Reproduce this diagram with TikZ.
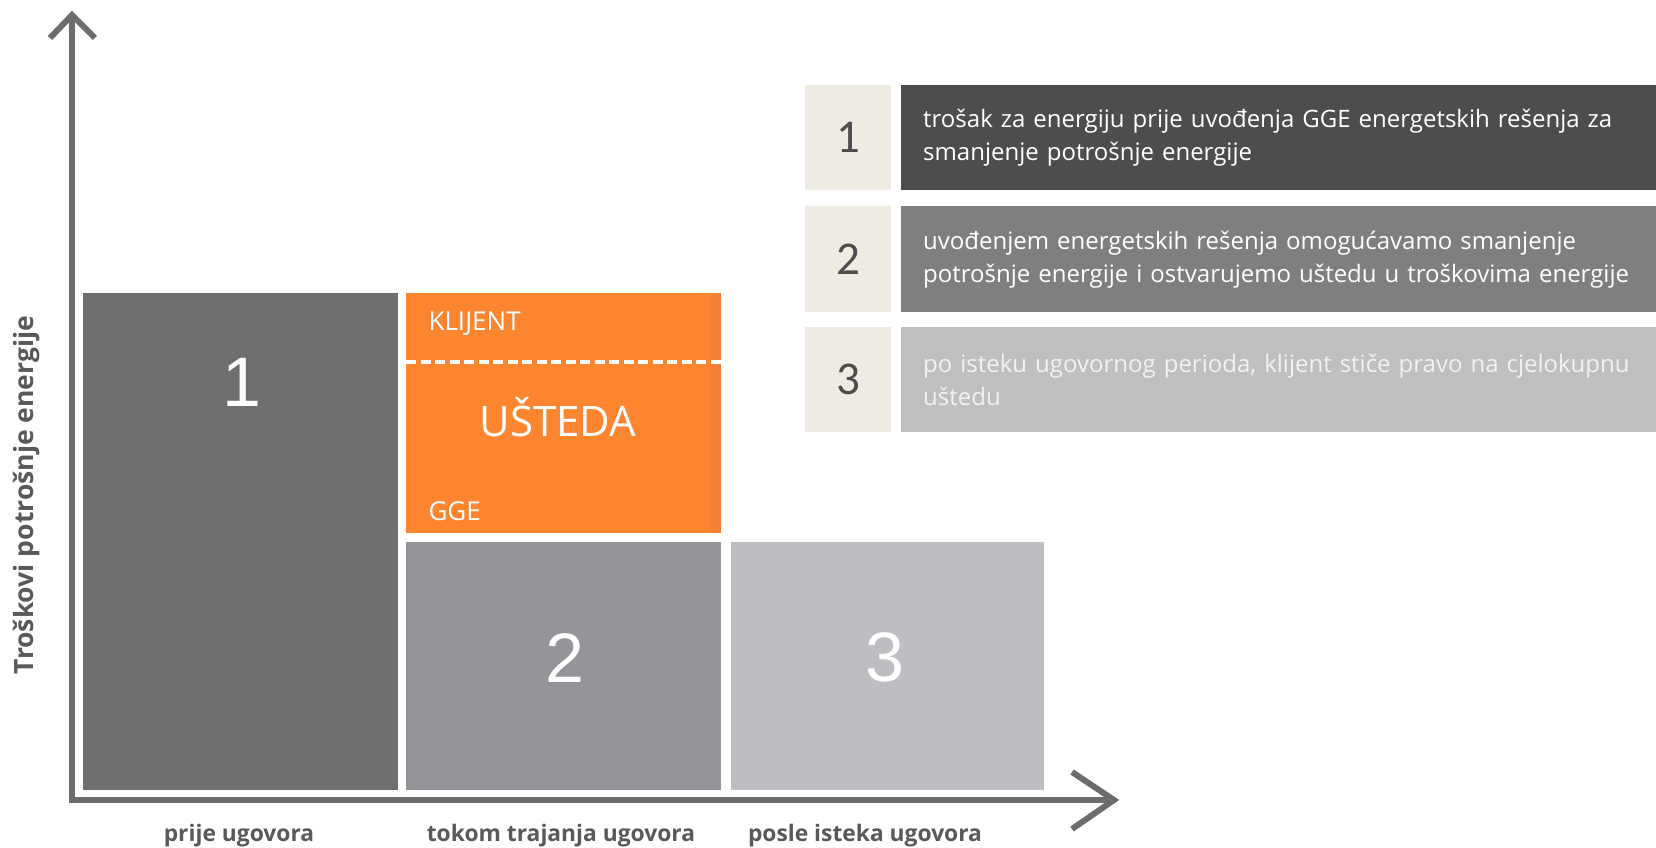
\documentclass[tikz,border=0pt]{standalone}
\usepackage{fontspec}
\setmainfont{Open Sans}
\newfontfamily\bardigits{Liberation Sans}
\newfontfamily\keydigits{Carlito}
\definecolor{axisgrey}{HTML}{6D6D6D}
\definecolor{barone}{HTML}{6E6E70}
\definecolor{bartwo}{HTML}{939598}
\definecolor{barthree}{HTML}{BCBEC1}
\definecolor{savings}{HTML}{FE8530}
\definecolor{savingsedge}{HTML}{F27F36}
\definecolor{keybeige}{HTML}{EDEBE2}
\definecolor{keyone}{HTML}{4D4D4D}
\definecolor{keytwo}{HTML}{7F7F7F}
\definecolor{keythree}{HTML}{BFBFBF}
\definecolor{labelgrey}{HTML}{595959}
\tikzset{
  axis/.style={draw=axisgrey,line width=6pt},
  bar/.style={anchor=north west,inner sep=0pt,outer sep=0pt},
  keynum/.style={fill=keybeige,anchor=north west,minimum width=86pt,inner sep=0pt,
    text=keyone,font=\keydigits\fontsize{47}{47}\selectfont},
  keytext/.style={anchor=north west,minimum width=755pt,text width=711pt,inner xsep=22pt,
    inner ysep=0pt,align=left,text=white,font=\fontsize{24}{33}\selectfont},
  ticklabel/.style={anchor=base,text=labelgrey,font=\bfseries\fontsize{22.8}{23}\selectfont}
}
\begin{document}
\begin{tikzpicture}[x=1pt,y=-1pt]
   \useasboundingbox (0,0) rectangle (1656,848);
   % axes
   \draw [axis] (72,803) -- (72,15);
   \draw [axis] (50,38) -- (72,15) -- (95,38);
   \draw [axis] (69,800) -- (1114,800);
   \draw [axis] (1072,772) -- (1114,800) -- (1072,829);
   \node [rotate=90,anchor=base,text=labelgrey,font=\bfseries\fontsize{26.5}{27}\selectfont]
      (ylabel) at (33,495) {Troškovi potrošnje energije};
   % bars
   \node [bar,fill=barone,minimum width=315pt,minimum height=497pt] (before) at (83,293) {};
   \node [bar,fill=savings,minimum width=315pt,minimum height=240pt] (saving) at (406,293) {};
   \fill [savingsedge] (711,293) rectangle (721,533);
   \draw [white,line width=3.5pt,dash pattern=on 10pt off 4.5pt] (406,362) -- (721,362);
   \node [bar,fill=bartwo,minimum width=315pt,minimum height=248pt] (during) at (406,542) {};
   \node [bar,fill=barthree,minimum width=313pt,minimum height=248pt] (after) at (731,542) {};
   \node [white,font=\bardigits\fontsize{70}{70}\selectfont] (numone) at (242,382) {1};
   \node [white,font=\bardigits\fontsize{70}{70}\selectfont] (numtwo) at (565,658) {2};
   \node [white,font=\bardigits\fontsize{70}{70}\selectfont] (numthree) at (885,657) {3};
   \node [anchor=base west,white,font=\fontsize{26}{26}\selectfont] (client) at (425,330) {KLIJENT};
   \node [anchor=base,white,font=\fontsize{42}{42}\selectfont] (savetext) at (558,436) {UŠTEDA};
   \node [anchor=base west,white,font=\fontsize{26}{26}\selectfont] (gge) at (425,520) {GGE};
   % period labels
   \node [ticklabel] (prije) at (239,841) {prije ugovora};
   \node [ticklabel] (tokom) at (561,841) {tokom trajanja ugovora};
   \node [ticklabel] (posle) at (865,841) {posle isteka ugovora};
   % key
   \node [keynum,minimum height=105pt] (keyA) at (805,85) {1};
   \node [keytext,fill=keyone,minimum height=105pt] (textA) at (901,85)
      {trošak za energiju prije uvođenja GGE energetskih rešenja za\\smanjenje potrošnje energije};
   \node [keynum,minimum height=106pt] (keyB) at (805,206) {2};
   \node [keytext,fill=keytwo,minimum height=106pt] (textB) at (901,206)
      {uvođenjem energetskih rešenja omogućavamo smanjenje\\potrošnje energije i ostvarujemo uštedu u troškovima energije};
   \node [keynum,minimum height=105pt] (keyC) at (805,327) {3};
   \node [keytext,fill=keythree,minimum height=105pt,text=white!95!black] (textC) at (901,327)
      {po isteku ugovornog perioda, klijent stiče pravo na cjelokupnu\\uštedu};
\end{tikzpicture}
\end{document}
